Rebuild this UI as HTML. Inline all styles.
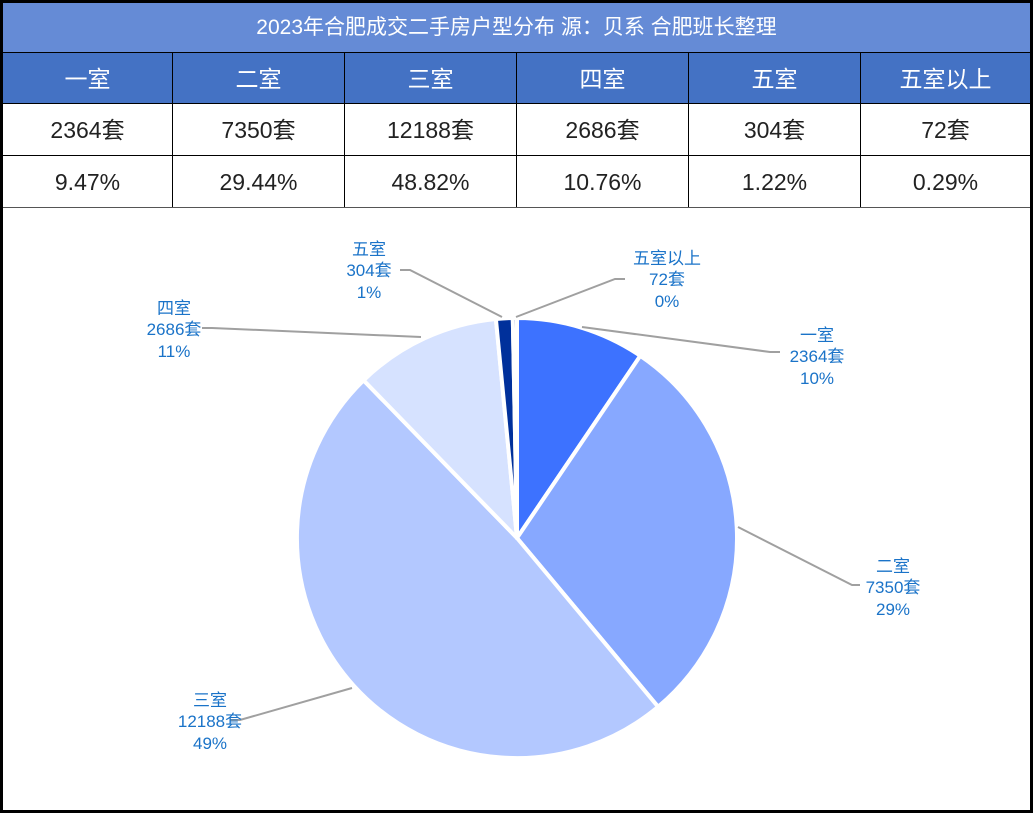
<!DOCTYPE html>
<html><head><meta charset="utf-8"><style>
body{margin:0;background:#fff;}
#w{position:relative;width:1033px;height:813px;overflow:hidden;background:#fff;font-family:"Liberation Sans","Noto Sans CJK SC",sans-serif;}
#frame{position:absolute;left:0;top:0;width:1027px;height:807px;border:3px solid #000;}
.title{position:absolute;left:3px;top:3px;width:1027px;height:49px;background:#658bd6;color:#fff;font-size:21px;line-height:49px;text-align:center;}
.row{position:absolute;left:3px;width:1027px;height:52px;display:flex;}
.row div{flex:0 0 auto;text-align:center;line-height:52px;font-size:23px;border-right:1px solid #000;box-sizing:border-box;}
.hd{top:52px;background:#4472c4;color:#fff;border-top:1px solid #000;border-bottom:1px solid #000;box-sizing:border-box;}
.r1{top:104px;color:#222;border-bottom:1px solid #000;box-sizing:border-box;}
.r2{top:156px;color:#222;border-bottom:1px solid #555;box-sizing:border-box;}
.row div:last-child{border-right:none;}
svg text{font-family:"Liberation Sans","Noto Sans CJK SC",sans-serif;font-size:17px;fill:#1a73c8;text-anchor:middle;}
</style></head><body><div id="w">
<div class="title">2023年合肥成交二手房户型分布 源：贝系 合肥班长整理</div>
<div class="row hd"><div style="width:170px">一室</div><div style="width:172px">二室</div><div style="width:172px">三室</div><div style="width:172px">四室</div><div style="width:172px">五室</div><div style="width:169px">五室以上</div></div>
<div class="row r1"><div style="width:170px">2364套</div><div style="width:172px">7350套</div><div style="width:172px">12188套</div><div style="width:172px">2686套</div><div style="width:172px">304套</div><div style="width:169px">72套</div></div>
<div class="row r2"><div style="width:170px">9.47%</div><div style="width:172px">29.44%</div><div style="width:172px">48.82%</div><div style="width:172px">10.76%</div><div style="width:172px">1.22%</div><div style="width:169px">0.29%</div></div>
<svg style="position:absolute;left:0;top:0" width="1033" height="813">
<g stroke="#fff" stroke-width="4" stroke-linejoin="round">
<path d="M517,538 L517,318 A220,220 0 0 1 640.3,355.8 Z" fill="#3d72ff"/>
<path d="M517,538 L640.3,355.8 A220,220 0 0 1 658.1,706.8 Z" fill="#87a8ff"/>
<path d="M517,538 L658.1,706.8 A220,220 0 0 1 363.6,380.3 Z" fill="#b3c8ff"/>
<path d="M517,538 L363.6,380.3 A220,220 0 0 1 495.9,319 Z" fill="#d6e2ff"/>
<path d="M517,538 L495.9,319 A220,220 0 0 1 512.8,318 Z" fill="#00309b"/>
<path d="M517,538 L512.8,318 A220,220 0 0 1 517,318 Z" fill="#1a3fa0"/>
</g>
<g stroke="#a0a0a0" stroke-width="2" fill="none">
<polyline points="582,327 770,352 780,352"/>
<polyline points="738,527 852,585 860,585"/>
<polyline points="352,688 240,720 230,720"/>
<polyline points="421,337 212,328 202,328"/>
<polyline points="502,317 410,270 400,270"/>
<polyline points="516,317 615,279 625,279"/>
</g>
<text x="817" y="341">一室</text><text x="817" y="362">2364套</text><text x="817" y="384">10%</text>
<text x="893" y="572">二室</text><text x="893" y="593">7350套</text><text x="893" y="615">29%</text>
<text x="210" y="706">三室</text><text x="210" y="727">12188套</text><text x="210" y="749">49%</text>
<text x="174" y="314">四室</text><text x="174" y="335">2686套</text><text x="174" y="357">11%</text>
<text x="369" y="255">五室</text><text x="369" y="276">304套</text><text x="369" y="298">1%</text>
<text x="667" y="264">五室以上</text><text x="667" y="285">72套</text><text x="667" y="307">0%</text>
</svg>
<div id="frame"></div>
</div></body></html>
